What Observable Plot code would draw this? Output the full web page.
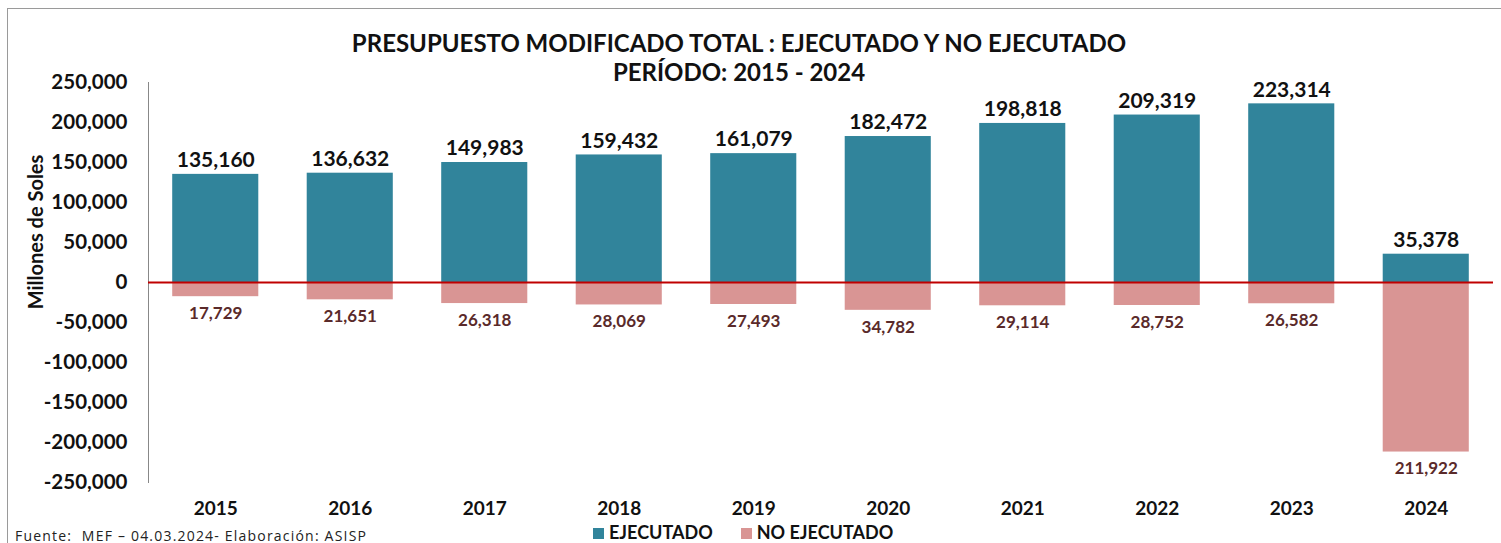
<!DOCTYPE html>
<html>
<head>
<meta charset="utf-8">
<script src="https://cdn.jsdelivr.net/npm/d3@7"></script>
<script src="https://cdn.jsdelivr.net/npm/@observablehq/plot@0.6"></script>
<style>
  html, body { margin: 0; padding: 0; background: #fff; }
  body { width: 1501px; height: 543px; position: relative; overflow: hidden; font-family: Lato, "Open Sans", sans-serif; }
  #frame { position: absolute; left: 7px; top: 8px; width: 1500px; height: 560px; border: 1px solid #9a9a9a; box-sizing: border-box; }
  #chart { position: absolute; left: 0; top: 0; }
  .title { position: absolute; left: 0; width: 1478px; text-align: center; font-weight: 700; font-size: 24px; color: #111; }
  #ylab { position: absolute; left: 35px; top: 232px; transform: translate(-50%, -50%) rotate(-90deg); font-weight: 700; font-size: 20px; white-space: nowrap; color: #111; }
  #legend { position: absolute; left: 593px; top: 521px; font-weight: 700; font-size: 18px; color: #111; display: flex; gap: 28px; }
  #legend span.sw { display: inline-block; width: 11px; height: 11px; margin-right: 5px; }
  #foot { position: absolute; left: 15px; top: 526px; font-size: 14px; letter-spacing: 1.2px; color: #222; font-family: "Open Sans", sans-serif; }
</style>
</head>
<body>
<div id="frame"></div>
<div id="chart"></div>
<div class="title" style="top:28px">PRESUPUESTO MODIFICADO TOTAL : EJECUTADO Y NO EJECUTADO</div>
<div class="title" style="top:57px">PERÍODO: 2015 - 2024</div>
<div id="ylab">Millones de Soles</div>
<div id="legend">
  <div><span class="sw" style="background:#31849B"></span>EJECUTADO</div>
  <div><span class="sw" style="background:#D99594"></span>NO EJECUTADO</div>
</div>
<div id="foot">Fuente:&nbsp; MEF – 04.03.2024- Elaboración: ASISP</div>
<script>
const years = ["2015","2016","2017","2018","2019","2020","2021","2022","2023","2024"];
const ejecutado = [135160,136632,149983,159432,161079,182472,198818,209319,223314,35378];
const noEjecutado = [17729,21651,26318,28069,27493,34782,29114,28752,26582,211922];
const yTicks = [250000,200000,150000,100000,50000,0,-50000,-100000,-150000,-200000,-250000];

const data = years.map((y, i) => ({year: y, ej: ejecutado[i], no: noEjecutado[i]}));
const fmt = d => d.toLocaleString("en-US");

const chart = Plot.plot({
  width: 1501,
  height: 543,
  marginTop: 82,
  marginBottom: 61,
  marginLeft: 148,
  marginRight: 8,
  style: {fontFamily: "Lato, 'Open Sans', sans-serif", color: "#111", background: "transparent"},
  x: {type: "band", domain: years, paddingInner: 0.36, paddingOuter: 0.18, round: false, label: null},
  y: {domain: [-250000, 250000], label: null},
  marks: [
    Plot.frame({anchor: "left", stroke: "#888"}),
    Plot.barY(data, {x: "year", y: "ej", fill: "#31849B"}),
    Plot.barY(data, {x: "year", y: d => -d.no, fill: "#D99594"}),
    Plot.ruleY([0], {stroke: "#C00000", strokeWidth: 2}),
    Plot.text(data, {x: "year", y: "ej", text: d => fmt(d.ej), dy: -14, fontSize: 21, fontWeight: "bold", fill: "#111"}),
    Plot.text(data, {x: "year", y: d => -d.no, text: d => fmt(d.no), dy: 17, fontSize: 17, fontWeight: "bold", fill: "#5A2A2A"}),
    Plot.axisY({ticks: yTicks, tickFormat: fmt, tickSize: 0, tickPadding: 21, fontSize: 20.5, fontWeight: "bold", label: null}),
    Plot.axisX({tickSize: 0, tickPadding: 19, fontSize: 19, fontWeight: "bold", label: null})
  ]
});
document.getElementById("chart").appendChild(chart);
</script>
</body>
</html>
